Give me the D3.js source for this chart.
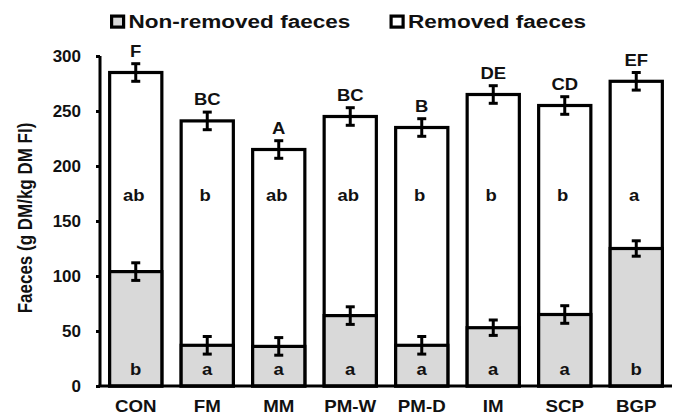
<!DOCTYPE html>
<html>
<head>
<meta charset="utf-8">
<script src="https://cdn.jsdelivr.net/npm/d3@7"></script>
<style>
  body { margin: 0; background: #fff; }
  text { font-family: "Liberation Sans", Arial, sans-serif; font-weight: bold; fill: #111; }
</style>
</head>
<body>
<svg width="678" height="416"></svg>
<script>
// data
const diets = ['CON', 'FM', 'MM', 'PM-W', 'PM-D', 'IM', 'SCP', 'BGP'];
const nonRemoved = [104, 37, 36, 64, 37, 53, 65, 125];
const totalFaeces = [285, 241, 215, 245, 235, 265, 255, 277];
const nonRemovedErr = [8, 8, 8, 8, 8, 7, 8, 7];
const totalErr = [8, 8, 8, 8, 8, 8, 8, 8];
const topLetters = ['F', 'BC', 'A', 'BC', 'B', 'DE', 'CD', 'EF'];
const removedLetters = ['ab', 'b', 'ab', 'ab', 'b', 'b', 'b', 'a'];
const nonRemovedLetters = ['b', 'a', 'a', 'a', 'a', 'a', 'a', 'b'];
const yTicks = [0, 50, 100, 150, 200, 250, 300];

const grey = '#d9d9d9';
const svg = d3.select('svg');

const x = d3.scaleBand().domain(diets).range([100, 672])
    .paddingInner(0.27).paddingOuter(0.135);
const y = d3.scaleLinear().domain([0, 300]).range([386, 56]);

const rows = diets.map((d, i) => ({
    diet: d, nr: nonRemoved[i], tot: totalFaeces[i],
    nrErr: nonRemovedErr[i], totErr: totalErr[i],
    top: topLetters[i], mid: removedLetters[i], low: nonRemovedLetters[i]
}));

// the original text is a bit wide, so stretch it sideways
const wide = (px, py, s) => `translate(${px},${py}) scale(${s},1)`;

// bars: whole bar white, lower part grey
const g = svg.append('g');
g.selectAll('rect.tot').data(rows).join('rect').attr('class', 'tot')
    .attr('x', d => x(d.diet)).attr('width', x.bandwidth())
    .attr('y', d => y(d.tot)).attr('height', d => y(0) - y(d.tot))
    .attr('fill', '#fff').attr('stroke', '#000').attr('stroke-width', 3.2);
g.selectAll('rect.nr').data(rows).join('rect').attr('class', 'nr')
    .attr('x', d => x(d.diet)).attr('width', x.bandwidth())
    .attr('y', d => y(d.nr)).attr('height', d => y(0) - y(d.nr))
    .attr('fill', grey).attr('stroke', '#000').attr('stroke-width', 3.2);

// error bars
function errBar(val, err) {
    const eg = g.selectAll(null).data(rows).join('g')
        .attr('transform', d => `translate(${x(d.diet) + x.bandwidth() / 2},0)`);
    eg.append('line').attr('y1', d => y(val(d) + err(d))).attr('y2', d => y(val(d) - err(d)))
        .attr('stroke', '#000').attr('stroke-width', 3);
    [1, -1].forEach(s => {
        eg.append('line').attr('x1', -4.5).attr('x2', 4.5)
            .attr('y1', d => y(val(d) + s * err(d))).attr('y2', d => y(val(d) + s * err(d)))
            .attr('stroke', '#000').attr('stroke-width', 3);
    });
}
errBar(d => d.nr, d => d.nrErr);
errBar(d => d.tot, d => d.totErr);

// letters
const cx = d => x(d.diet) + x.bandwidth() / 2;
g.selectAll('text.top').data(rows).join('text').attr('class', 'top')
    .attr('transform', d => wide(cx(d), y(d.tot + d.totErr) - 7, 1.12))
    .attr('text-anchor', 'middle').attr('font-size', 16.5).text(d => d.top);
g.selectAll('text.mid').data(rows).join('text').attr('class', 'mid')
    .attr('transform', d => wide(cx(d) - 2, 201, 1.12))
    .attr('text-anchor', 'middle').attr('font-size', 16.5).text(d => d.mid);
g.selectAll('text.low').data(rows).join('text').attr('class', 'low')
    .attr('transform', d => wide(cx(d), 375, 1.12))
    .attr('text-anchor', 'middle').attr('font-size', 16.5).text(d => d.low);

// axes
const yAxis = svg.append('g').attr('transform', 'translate(100,0)')
    .call(d3.axisLeft(y).tickValues(yTicks).tickSize(4).tickPadding(15));
yAxis.select('.domain').attr('d', `M0,${y(300)}V${y(0)}`).attr('stroke-width', 3);
yAxis.selectAll('.tick line').attr('stroke-width', 3);
yAxis.selectAll('.tick text').attr('font-size', 17).attr('font-family', null).attr('fill', '#111');

const xAxis = svg.append('g').attr('transform', `translate(0,${y(0)})`)
    .call(d3.axisBottom(x).tickSize(0).tickPadding(15));
xAxis.select('.domain').attr('d', 'M98.5,0H672').attr('stroke-width', 3.2);
xAxis.selectAll('.tick text').attr('font-size', 16).attr('font-family', null).attr('fill', '#111')
    .attr('transform', 'scale(1.17,1)');

svg.append('text').attr('transform', 'translate(32,218) rotate(-90) scale(1,1.15)')
    .attr('text-anchor', 'middle').attr('font-size', 17)
    .text('Faeces (g DM/kg DM FI)');

// legend
const legend = [['Non-removed faeces', grey, 110], ['Removed faeces', '#fff', 389.5]];
const lg = svg.selectAll('g.leg').data(legend).join('g').attr('class', 'leg')
    .attr('transform', d => `translate(${d[0] ? d[2] : 0},14.5)`);
lg.append('rect').attr('x', 1.6).attr('y', 1.6).attr('width', 12).attr('height', 11)
    .attr('fill', d => d[1]).attr('stroke', '#000').attr('stroke-width', 3.2);
lg.append('text').attr('transform', wide(18.5, 13.8, 1.22)).attr('font-size', 18.5).text(d => d[0]);
</script>
</body>
</html>
